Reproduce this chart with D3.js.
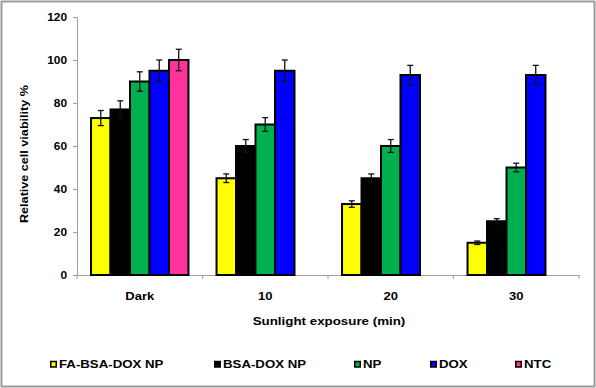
<!DOCTYPE html>
<html><head><meta charset="utf-8">
<script src="https://cdn.jsdelivr.net/npm/d3@7"></script>
<style>
html,body{margin:0;padding:0;background:#fff;}
svg text{font-family:"Liberation Sans",Arial,sans-serif;font-weight:bold;fill:#000;}
</style></head>
<body><svg id="c" width="596" height="388"></svg>
<script>
const categories = ["Dark", "10", "20", "30"];
const seriesNames = ["FA-BSA-DOX NP", "BSA-DOX NP", "NP", "DOX", "NTC"];
const seriesColors = ["#FFFF00", "#000000", "#00B050", "#0000FF", "#FF3399"];
const faBsaDoxNP = [73, 45, 33, 15];
const faBsaDoxNPErr = [3.5, 2, 1.5, 0.8];
const bsaDoxNP = [77, 60, 45, 25];
const bsaDoxNPErr = [4, 3, 2, 1.2];
const npVals = [90, 70, 60, 50];
const npErr = [4.5, 3.2, 3, 2];
const doxVals = [95, 95, 93, 93];
const doxErr = [5, 5, 4.5, 4.5];
const ntcVals = [100, null, null, null];
const ntcErr = [5, null, null, null];
const yTicks = [0, 20, 40, 60, 80, 100, 120];
const xTitle = "Sunlight exposure (min)";
const yTitle = "Relative cell viability %";

const seriesVals = [faBsaDoxNP, bsaDoxNP, npVals, doxVals, ntcVals];
const seriesErrs = [faBsaDoxNPErr, bsaDoxNPErr, npErr, doxErr, ntcErr];

const svg = d3.select("#c");
const W = 596, H = 388;
const m = {left: 77, right: 17, top: 17, bottom: 113};

function stretch(sel, f) {
  sel.each(function() {
    const n = this.getComputedTextLength();
    d3.select(this).attr("textLength", n * f).attr("lengthAdjust", "spacingAndGlyphs");
  });
}

// outer frame
svg.append("rect").attr("x", 1.5).attr("y", 1.5).attr("width", W - 3).attr("height", H - 3)
  .attr("fill", "#fff").attr("stroke", "#9a9a9a").attr("stroke-width", 2);

const x0 = d3.scaleBand().domain(categories).range([m.left, W - m.right]).padding(0);
const x1 = d3.scaleBand().domain(seriesNames).range([0, x0.bandwidth()]).paddingInner(0).paddingOuter(0.72);
const y = d3.scaleLinear().domain([0, 120]).range([H - m.bottom, m.top]);

// y axis
const yAx = svg.append("g").attr("transform", `translate(${m.left},0)`)
  .call(d3.axisLeft(y).tickValues(yTicks).tickSize(4).tickPadding(6));
yAx.select(".domain").attr("stroke", "#a0a0a0");
yAx.selectAll(".tick line").attr("stroke", "#a0a0a0");
yAx.selectAll("text").style("font-size", "11px").attr("font-family", null);
stretch(yAx.selectAll("text"), 1.08);

// x axis
const xAx = svg.append("g").attr("transform", `translate(0,${y(0)})`)
  .call(d3.axisBottom(x0).tickSize(0).tickPadding(17));
xAx.select(".domain").attr("stroke", "#a0a0a0");
xAx.selectAll("text").style("font-size", "11px").attr("font-family", null);
stretch(xAx.selectAll("text"), 1.18);
const bounds = categories.map(c => x0(c)).concat([x0(categories[categories.length - 1]) + x0.bandwidth()]);
svg.append("g").selectAll("line").data(bounds).join("line")
  .attr("x1", d => d).attr("x2", d => d).attr("y1", y(0)).attr("y2", y(0) + 4)
  .attr("stroke", "#a0a0a0");

// bars
const data = [];
categories.forEach((c, i) => seriesNames.forEach((s, j) => {
  if (seriesVals[j][i] != null) data.push({c, s, j, v: seriesVals[j][i], e: seriesErrs[j][i]});
}));
const g = svg.append("g");
g.selectAll("rect").data(data).join("rect")
  .attr("x", d => x0(d.c) + x1(d.s))
  .attr("y", d => y(d.v))
  .attr("width", x1.bandwidth())
  .attr("height", d => y(0) - y(d.v))
  .attr("fill", d => seriesColors[d.j])
  .attr("stroke", "#000").attr("stroke-width", 2);

// error bars
const eg = svg.append("g").attr("stroke", "#111").attr("stroke-width", 1.3);
data.forEach(d => {
  const cx = x0(d.c) + x1(d.s) + x1.bandwidth() / 2;
  eg.append("line").attr("x1", cx).attr("x2", cx).attr("y1", y(d.v + d.e)).attr("y2", y(d.v - d.e));
  eg.append("line").attr("x1", cx - 3).attr("x2", cx + 3).attr("y1", y(d.v + d.e)).attr("y2", y(d.v + d.e));
  eg.append("line").attr("x1", cx - 3).attr("x2", cx + 3).attr("y1", y(d.v - d.e)).attr("y2", y(d.v - d.e));
});

// titles
const xt = svg.append("text").attr("x", 329).attr("y", 325).attr("text-anchor", "middle")
  .style("font-size", "10.5px").text(xTitle);
stretch(xt, 1.27);
const yt = svg.append("text").attr("transform", "translate(28,154) rotate(-90)").attr("text-anchor", "middle")
  .style("font-size", "10.5px").text(yTitle);
stretch(yt, 1.2);

// legend
const legX = [50, 214, 354, 430, 515];
const lg = svg.append("g");
seriesNames.forEach((s, i) => {
  lg.append("rect").attr("x", legX[i] + 0.75).attr("y", 361.5).attr("width", 5.5).attr("height", 5.5)
    .attr("fill", seriesColors[i]).attr("stroke", "#000").attr("stroke-width", 1.5);
  const t = lg.append("text").attr("x", legX[i] + 9).attr("y", 368).style("font-size", "10.5px").text(s);
  stretch(t, 1.26);
});
</script></body></html>
